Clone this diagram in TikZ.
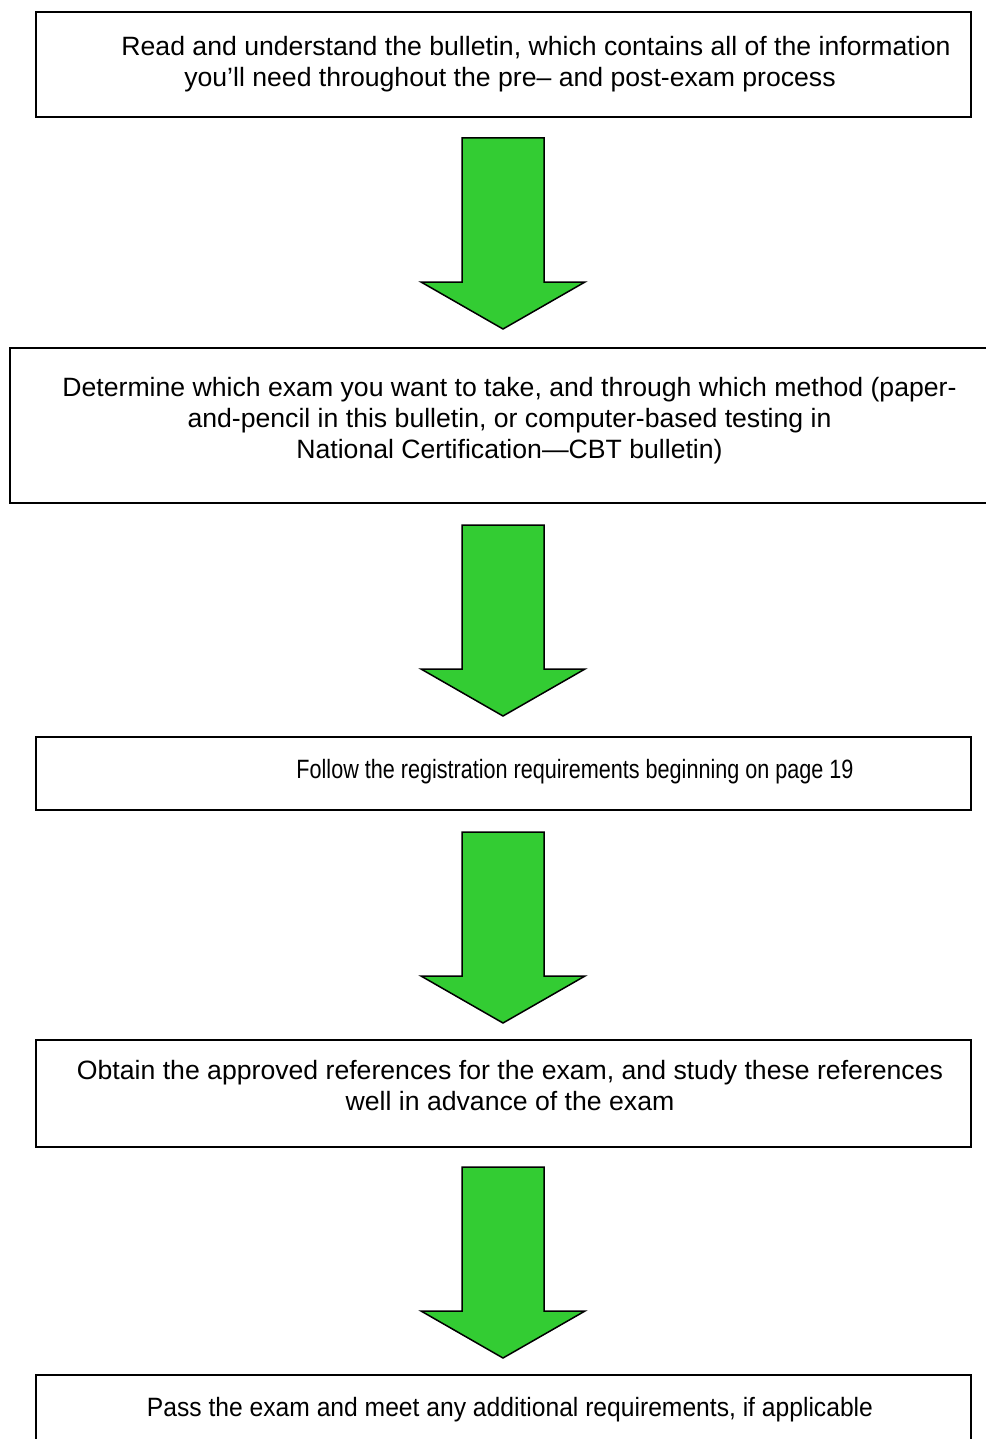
\documentclass[tikz,border=0pt]{standalone}
\usepackage{fontspec}
\setmainfont{Liberation Sans}
\newfontfamily\fwide[FakeStretch=1.005]{Liberation Sans}
\newfontfamily\fmid[FakeStretch=0.93]{Liberation Sans}
\newfontfamily\fnarrow[FakeStretch=0.815]{Liberation Sans}
\definecolor{arrowgreen}{RGB}{51,204,51}
\begin{document}
\begin{tikzpicture}[x=1pt,y=-1pt,
  box/.style={draw=black, line width=2.5pt, rectangle, inner sep=0pt},
  txt/.style={align=center, font=\fontsize{26.5}{31}\selectfont, inner sep=0pt},
  arrowshape/.style={draw=black, line width=1.5pt, fill=arrowgreen, line join=miter},
  downarrow/.pic={\draw[arrowshape] (-41,0) -- (41,0) -- (41,144) -- (82,144) -- (0,191) -- (-82,144) -- (-41,144) -- cycle;}
]
\useasboundingbox (0,0) rectangle (985,1439);
\fill[white] (0,0) rectangle (985,1439);

\node[box, minimum width=935pt, minimum height=105pt] (b1) at (503.5,64.5) {};
\node[box, minimum width=998pt, minimum height=155pt] (b2) at (509,425.5) {};
\node[box, minimum width=935pt, minimum height=73pt] (b3) at (503.5,773.5) {};
\node[box, minimum width=935pt, minimum height=107pt] (b4) at (503.5,1093.5) {};
\node[box, minimum width=935pt, minimum height=95pt] (b5) at (503.5,1422.5) {};

\node[txt, font=\fontsize{26.5}{31}\fwide] (t1) at (536,64) {Read and understand the bulletin, which contains all of the information\\you’ll need throughout the pre– and post-exam process\hspace*{52pt}};
\node[txt, font=\fontsize{26.5}{31}\fwide] (t2) at (509.5,421) {Determine which exam you want to take, and through which method (paper-\\and-pencil in this bulletin, or computer-based testing in\\National Certification—CBT bulletin)};
\node[txt, font=\fontsize{26.5}{31}\fnarrow] (t3) at (575,772) {Follow the registration requirements beginning on page 19};
\node[txt, font=\fontsize{26.5}{31}\fwide] (t4) at (510,1086) {Obtain the approved references for the exam, and study these references\\well in advance of the exam};
\node[txt, font=\fontsize{26.5}{31}\fmid] (t5) at (510,1410) {Pass the exam and meet any additional requirements, if applicable};

\pic (a1) at (503,138) {downarrow};
\pic (a2) at (503,525) {downarrow};
\pic (a3) at (503,832) {downarrow};
\pic (a4) at (503,1167) {downarrow};
\end{tikzpicture}
\end{document}
